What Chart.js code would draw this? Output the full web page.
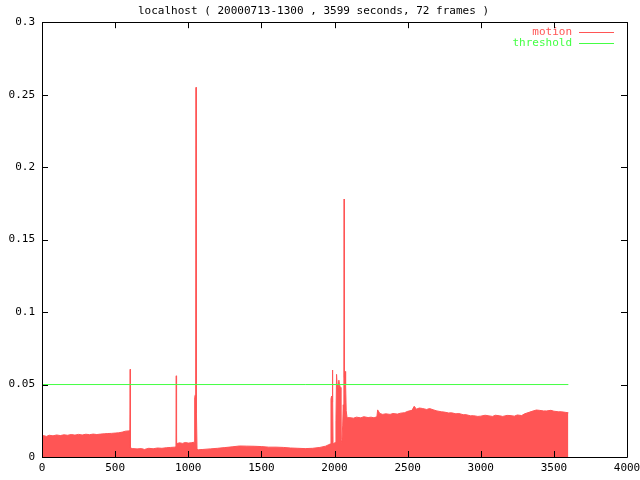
<!DOCTYPE html>
<html>
<head>
<meta charset="utf-8">
<script src="https://cdn.jsdelivr.net/npm/chart.js@4/dist/chart.umd.min.js"></script>
<style>
html,body{margin:0;padding:0;background:#fff;}
#wrap{width:640px;height:480px;}
</style>
</head>
<body>
<div id="wrap"><canvas id="c" width="640" height="480"></canvas></div>
<script>
const titleText = 'localhost ( 20000713-1300 , 3599 seconds, 72 frames )';
const seriesNames = ['motion', 'threshold'];
const motionX = [0,10,30,50,75,100,125,150,175,200,225,250,275,300,325,350,375,400,425,450,475,500,525,550,570,590,601,
  603,605,620,650,680,700,730,760,790,820,850,880,905,916,
  918,920,940,960,980,1000,1020,1040,1044,1048,1050,1052,1053,1054,1056,1058,
  1060,1070,1100,1150,1200,1250,1300,1350,1400,1450,1500,1550,1600,1650,1700,1750,1800,1850,1900,1940,1960,1972,
  1976,1980,1983,1986,1988,1990,2005,2010,2014,2018,2022,2030,2034,2040,2044,2050,2056,2060,2064,2066,2068,2072,2076,2080,2086,
  2100,2130,2150,2180,2200,2230,2250,2270,2290,2295,2310,2330,2350,2380,2400,2430,2450,2480,2500,2530,2545,2560,2580,2600,2630,2650,2680,2700,2730,2750,2780,2800,2830,2850,2880,2900,2930,2950,2980,3000,3030,3050,3080,3100,3130,3150,3180,3200,3230,3250,3280,3300,3330,3350,3380,3400,3430,3450,3480,3500,3530,3550,3580,3599];
const motionY = [0.0138,0.0148,0.0142,0.0150,0.0146,0.0152,0.0148,0.0153,0.0150,0.0155,0.0151,0.0156,0.0152,0.0157,0.0154,0.0158,0.0155,0.0158,0.0160,0.0162,0.0163,0.0165,0.0167,0.0172,0.0178,0.0180,0.0182,
  0.0605,0.0062,0.0058,0.0056,0.0058,0.0052,0.0060,0.0057,0.0062,0.0060,0.0064,0.0066,0.0068,0.0070,
  0.0560,0.0092,0.0098,0.0094,0.0100,0.0096,0.0098,0.0102,0.0410,0.0430,0.0440,0.0490,0.2550,0.0520,0.0470,0.0300,
  0.0052,0.0050,0.0052,0.0056,0.0060,0.0065,0.0070,0.0076,0.0075,0.0074,0.0072,0.0068,0.0068,0.0066,0.0062,0.0060,0.0058,0.0060,0.0066,0.0075,0.0085,0.0090,
  0.0400,0.0420,0.0380,0.0600,0.0450,0.0090,0.0100,0.0250,0.0570,0.0500,0.0450,0.0530,0.0500,0.0480,0.0120,0.0100,0.0220,0.0360,0.0300,0.1780,0.0550,0.0590,0.0500,0.0320,0.0270,
  0.0272,0.0268,0.0275,0.0270,0.0278,0.0272,0.0275,0.0270,0.0278,0.0325,0.0300,0.0294,0.0298,0.0294,0.0300,0.0296,0.0302,0.0306,0.0315,0.0322,0.0350,0.0330,0.0338,0.0335,0.0328,0.0334,0.0324,0.0318,0.0312,0.0310,0.0304,0.0305,0.0298,0.0300,0.0292,0.0292,0.0284,0.0285,0.0280,0.0282,0.0288,0.0285,0.0280,0.0288,0.0284,0.0280,0.0287,0.0286,0.0282,0.0290,0.0286,0.0298,0.0308,0.0315,0.0324,0.0322,0.0318,0.0318,0.0322,0.0316,0.0312,0.0312,0.0308,0.0305];
const thresholdX = [0, 3599];
const thresholdY = [0.05, 0.05];
const xTicks = [0,500,1000,1500,2000,2500,3000,3500,4000];
const yTicks = [0,0.05,0.1,0.15,0.2,0.25,0.3];

const RED = '#ff5555';
const GREEN = '#44ff44';
const FONT = {family: '"DejaVu Sans Mono", monospace', size: 11};

const pts = (xs, ys) => xs.map((x, i) => ({x: x, y: ys[i]}));

const frame = {
  id: 'frame',
  afterDatasetsDraw(chart) {
    const ctx = chart.ctx, a = chart.chartArea;
    const xs = chart.scales.x, ys = chart.scales.y;
    ctx.save();
    ctx.strokeStyle = '#000';
    ctx.lineWidth = 1;
    ctx.beginPath();
    ctx.rect(Math.round(a.left) + 0.5, Math.round(a.top) + 0.5, Math.round(a.right - a.left), Math.round(a.bottom - a.top));
    const L = 6;
    xTicks.forEach(v => {
      const px = Math.round(xs.getPixelForValue(v)) + 0.5;
      ctx.moveTo(px, a.bottom); ctx.lineTo(px, a.bottom - L);
      ctx.moveTo(px, a.top); ctx.lineTo(px, a.top + L);
    });
    yTicks.forEach(v => {
      const py = Math.round(ys.getPixelForValue(v)) + 0.5;
      ctx.moveTo(a.left, py); ctx.lineTo(a.left + L, py);
      ctx.moveTo(a.right, py); ctx.lineTo(a.right - L, py);
    });
    ctx.stroke();
    // key
    ctx.font = '11px "DejaVu Sans Mono", monospace';
    ctx.textAlign = 'right';
    ctx.textBaseline = 'middle';
    const colors = [RED, GREEN];
    seriesNames.forEach((name, i) => {
      const y = 32 + i * 11;
      ctx.fillStyle = colors[i];
      ctx.fillText(name, 572, y);
      ctx.strokeStyle = colors[i];
      ctx.beginPath();
      ctx.moveTo(579, y + 0.5); ctx.lineTo(614, y + 0.5);
      ctx.stroke();
    });
    ctx.restore();
  }
};

new Chart(document.getElementById('c'), {
  type: 'line',
  data: {
    datasets: [
      {label: seriesNames[1], data: pts(thresholdX, thresholdY), borderColor: GREEN, borderWidth: 1, pointRadius: 0, fill: false, order: 0},
      {label: seriesNames[0], data: pts(motionX, motionY), borderColor: RED, backgroundColor: RED, borderWidth: 1, pointRadius: 0, fill: 'origin', tension: 0, order: 1}
    ]
  },
  options: {
    responsive: false,
    animation: false,
    layout: {padding: {left: 0, right: 13, top: 0, bottom: 0}},
    plugins: {
      legend: {display: false},
      tooltip: {enabled: false},
      title: {display: true, text: titleText, color: '#000', font: {family: FONT.family, size: 11, weight: 'normal', lineHeight: 1.2}, padding: {top: 5, bottom: 4}}
    },
    scales: {
      x: {
        type: 'linear', min: 0, max: 4000,
        afterBuildTicks: s => { s.ticks = xTicks.map(v => ({value: v})); },
        afterFit: s => { s.height = 23; s.paddingLeft = 0; s.paddingRight = 0; },
        grid: {display: false, drawTicks: false},
        border: {display: false},
        ticks: {color: '#000', font: FONT, padding: 5, maxRotation: 0, autoSkip: false, callback: v => String(v)}
      },
      y: {
        type: 'linear', min: 0, max: 0.3,
        afterBuildTicks: s => { s.ticks = yTicks.map(v => ({value: v})); },
        afterFit: s => { s.width = 42; s.paddingTop = 0; s.paddingBottom = 0; },
        grid: {display: false, drawTicks: false},
        border: {display: false},
        ticks: {color: '#000', font: FONT, padding: 7, autoSkip: false, callback: v => String(Number(v.toFixed(2)))}
      }
    }
  },
  plugins: [frame]
});
</script>
</body>
</html>
